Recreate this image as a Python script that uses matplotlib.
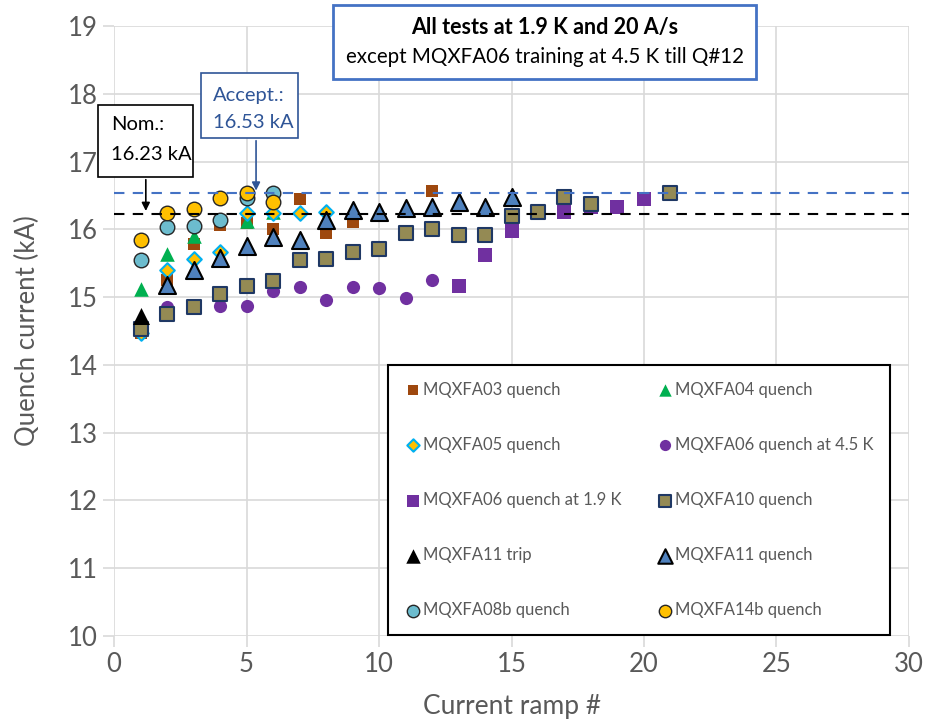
import matplotlib.pyplot as plt
from matplotlib.patches import Rectangle

plt.rcParams['font.family'] = ['Lato', 'DejaVu Sans']

# Quench current (kA) per current ramp
mqxfa03_x = [1, 2, 3, 4, 5, 6, 7, 8, 9, 12]
mqxfa03_y = [14.47, 15.25, 15.78, 16.06, 16.09, 16.00, 16.45, 15.95, 16.11, 16.57]

mqxfa04_x = [1, 2, 3, 5, 6]
mqxfa04_y = [15.12, 15.64, 15.90, 16.12, 16.26]

mqxfa05_x = [1, 2, 3, 4, 5, 6, 7, 8]
mqxfa05_y = [14.47, 15.40, 15.56, 15.67, 16.24, 16.24, 16.24, 16.25]

mqxfa06_45_x = [2, 3, 4, 5, 6, 7, 8, 9, 10, 11, 12]
mqxfa06_45_y = [14.86, 14.86, 14.87, 14.87, 15.09, 15.15, 14.96, 15.15, 15.13, 14.98, 15.25]

mqxfa06_19_x = [13, 14, 15, 16, 17, 18, 19, 20]
mqxfa06_19_y = [15.17, 15.62, 15.97, 16.27, 16.26, 16.33, 16.33, 16.44]

mqxfa10_x = [1, 2, 3, 4, 5, 6, 7, 8, 9, 10, 11, 12, 13, 14, 15, 16, 17, 18, 21]
mqxfa10_y = [14.53, 14.75, 14.86, 15.05, 15.17, 15.24, 15.54, 15.56, 15.67, 15.71,
             15.94, 16.00, 15.92, 15.92, 16.19, 16.25, 16.47, 16.38, 16.53]

mqxfa11_trip_x = [1]
mqxfa11_trip_y = [14.72]

mqxfa11_x = [2, 3, 4, 5, 6, 7, 8, 9, 10, 11, 12, 13, 14, 15]
mqxfa11_y = [15.18, 15.40, 15.57, 15.76, 15.88, 15.84, 16.14, 16.29, 16.26, 16.31,
             16.33, 16.41, 16.33, 16.47]

mqxfa08b_x = [1, 2, 3, 4, 5, 6]
mqxfa08b_y = [15.55, 16.03, 16.05, 16.14, 16.46, 16.53]

mqxfa14b_x = [1, 2, 3, 4, 5, 6]
mqxfa14b_y = [15.84, 16.24, 16.30, 16.46, 16.53, 16.41]

nominal = 16.23
acceptance = 16.53

grey = '#595959'

fig = plt.figure(figsize=(9.3, 7.28), dpi=100)
ax = fig.add_axes([0.1226, 0.1264, 0.8548, 0.8379])

h = {}
h['03'] = ax.scatter(mqxfa03_x, mqxfa03_y, marker='s', s=64, color='#9E480E', lw=0)
h['04'] = ax.scatter(mqxfa04_x, mqxfa04_y, marker='^', s=110, color='#00B050', lw=0)
h['05'] = ax.scatter(mqxfa05_x, mqxfa05_y, marker='D', s=55, facecolor='#FFC000',
                     edgecolor='#00B0F0', lw=1.5)
h['06a'] = ax.scatter(mqxfa06_45_x, mqxfa06_45_y, marker='o', s=90, color='#7030A0', lw=0)
h['06b'] = ax.scatter(mqxfa06_19_x, mqxfa06_19_y, marker='s', s=90, color='#7030A0', lw=0)
h['10'] = ax.scatter(mqxfa10_x, mqxfa10_y, marker='s', s=100, facecolor='#948A54',
                     edgecolor='#1F3864', lw=1.5)
h['11t'] = ax.scatter(mqxfa11_trip_x, mqxfa11_trip_y, marker='^', s=150, color='black', lw=0)
h['11'] = ax.scatter(mqxfa11_x, mqxfa11_y, marker='^', s=150, facecolor='#4F81BD',
                     edgecolor='black', lw=1.5)
h['08b'] = ax.scatter(mqxfa08b_x, mqxfa08b_y, marker='o', s=110, facecolor='#6CBCCE',
                      edgecolor='#262626', lw=1)
h['14b'] = ax.scatter(mqxfa14b_x, mqxfa14b_y, marker='o', s=110, facecolor='#FFC000',
                      edgecolor='#262626', lw=1)

ax.axhline(acceptance, color='#4472C4', ls=(0, (5, 4)), lw=1.5, zorder=1)
ax.axhline(nominal, color='black', ls=(0, (5, 4)), lw=1.5, zorder=1)

ax.set_xlim(0, 30)
ax.set_ylim(10, 19)
ax.set_xticks(range(0, 31, 5))
ax.set_yticks(range(10, 20))
ax.grid(True, color='#D9D9D9', lw=1.2)
ax.set_axisbelow(True)
for s in ax.spines.values():
    s.set_visible(False)
ax.tick_params(colors='#D9D9D9', labelcolor=grey, labelsize=18.5, length=8, width=1.2)
ax.set_xlabel('Current ramp #', fontsize=19, color=grey, labelpad=12)
ax.set_ylabel('Quench current (kA)', fontsize=18.5, color=grey, labelpad=20)

# legend, row-major order as in the original
order = ['03', '05', '06b', '11t', '08b', '04', '06a', '10', '11', '14b']
labels = {'03': 'MQXFA03 quench', '04': 'MQXFA04 quench', '05': 'MQXFA05 quench',
          '06a': 'MQXFA06 quench at 4.5 K', '06b': 'MQXFA06 quench at 1.9 K',
          '10': 'MQXFA10 quench', '11t': 'MQXFA11 trip', '11': 'MQXFA11 quench',
          '08b': 'MQXFA08b quench', '14b': 'MQXFA14b quench'}
leg = ax.legend([h[k] for k in order], [labels[k] for k in order], ncol=2,
                loc='lower left', bbox_to_anchor=(0.3447, 0.0016),
                borderaxespad=0, fontsize=12, labelspacing=2.35, handletextpad=0.1,
                handlelength=1.0, columnspacing=2.1, borderpad=1.0, fancybox=False,
                framealpha=1, edgecolor='black', scatterpoints=1, markerscale=0.85)
leg.get_frame().set_linewidth(1.5)
for t in leg.get_texts():
    t.set_color(grey)

# Nominal / acceptance callouts
ax.add_patch(Rectangle((-0.6, 16.773), 3.58, 1.062, facecolor='white', edgecolor='black',
                       lw=1.2, clip_on=False, zorder=5))
ax.text(-0.11, 17.54, 'Nom.:', fontsize=14.5, va='center', zorder=6)
ax.text(-0.11, 17.10, '16.23 kA', fontsize=14.5, va='center', zorder=6)
ax.annotate('', xy=(1.2, nominal), xytext=(1.2, 16.773),
            arrowprops=dict(arrowstyle='-|>', color='black', lw=1.2, mutation_scale=12))

ax.add_patch(Rectangle((3.28, 17.348), 3.66, 0.96, facecolor='white', edgecolor='#2F5597',
                       lw=1.2, zorder=5))
ax.text(3.74, 17.98, 'Accept.:', fontsize=14.5, va='center', color='#2F5597', zorder=6)
ax.text(3.74, 17.58, '16.53 kA', fontsize=14.5, va='center', color='#2F5597', zorder=6)
ax.annotate('', xy=(5.36, acceptance), xytext=(5.36, 17.348),
            arrowprops=dict(arrowstyle='-|>', color='#2F5597', lw=1.2, mutation_scale=12))

# conditions box
fig.patches.append(Rectangle((0.358, 0.8915), 0.455, 0.1016, transform=fig.transFigure,
                             facecolor='white', edgecolor='#4472C4', lw=2, zorder=5))
fig.text(0.5855, 0.962, 'All tests at 1.9 K and 20 A/s', fontsize=15.5, fontweight='bold',
         ha='center', va='center', zorder=6)
fig.text(0.5855, 0.922, 'except MQXFA06 training at 4.5 K till Q#12', fontsize=14.8,
         ha='center', va='center', zorder=6)

fig.savefig('out.png', dpi=100)
